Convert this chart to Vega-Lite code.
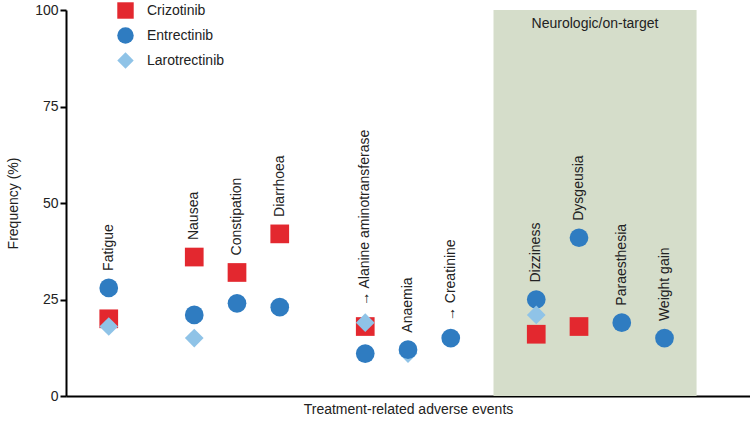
{
  "$schema": "https://vega.github.io/schema/vega-lite/v6.json",
  "width": 684,
  "height": 386,
  "autosize": {"type": "none"},
  "padding": {"left": 66, "top": 10, "right": 0, "bottom": 25},
  "background": "white",
  "config": {
    "view": {"stroke": null},
    "font": "Liberation Sans",
    "text": {"font": "Liberation Sans"}
  },
  "datasets": {
    "points": [
      {"event": "Fatigue", "pos": 1, "drug": "Crizotinib", "freq": 20},
      {"event": "Fatigue", "pos": 1, "drug": "Entrectinib", "freq": 28},
      {"event": "Fatigue", "pos": 1, "drug": "Larotrectinib", "freq": 18},
      {"event": "Nausea", "pos": 3, "drug": "Crizotinib", "freq": 36},
      {"event": "Nausea", "pos": 3, "drug": "Entrectinib", "freq": 21},
      {"event": "Nausea", "pos": 3, "drug": "Larotrectinib", "freq": 15},
      {"event": "Constipation", "pos": 4, "drug": "Crizotinib", "freq": 32},
      {"event": "Constipation", "pos": 4, "drug": "Entrectinib", "freq": 24},
      {"event": "Diarrhoea", "pos": 5, "drug": "Crizotinib", "freq": 42},
      {"event": "Diarrhoea", "pos": 5, "drug": "Entrectinib", "freq": 23},
      {"event": "→ Alanine aminotransferase", "pos": 7, "drug": "Crizotinib", "freq": 18},
      {"event": "→ Alanine aminotransferase", "pos": 7, "drug": "Entrectinib", "freq": 11},
      {"event": "→ Alanine aminotransferase", "pos": 7, "drug": "Larotrectinib", "freq": 19},
      {"event": "Anaemia", "pos": 8, "drug": "Larotrectinib", "freq": 11},
      {"event": "Anaemia", "pos": 8, "drug": "Entrectinib", "freq": 12},
      {"event": "→ Creatinine", "pos": 9, "drug": "Entrectinib", "freq": 15},
      {"event": "Dizziness", "pos": 11, "drug": "Crizotinib", "freq": 16},
      {"event": "Dizziness", "pos": 11, "drug": "Entrectinib", "freq": 25},
      {"event": "Dizziness", "pos": 11, "drug": "Larotrectinib", "freq": 21},
      {"event": "Dysgeusia", "pos": 12, "drug": "Crizotinib", "freq": 18},
      {"event": "Dysgeusia", "pos": 12, "drug": "Entrectinib", "freq": 41},
      {"event": "Paraesthesia", "pos": 13, "drug": "Entrectinib", "freq": 19},
      {"event": "Weight gain", "pos": 14, "drug": "Entrectinib", "freq": 15}
    ],
    "band": [
      {"label": "Neurologic/on-target", "start": 10, "end": 14.75, "low": 0, "high": 100, "mid": 12.375}
    ]
  },
  "layer": [
    {
      "data": {"name": "band"},
      "mark": {"type": "rect", "color": "#d5ddca"},
      "encoding": {
        "x": {"field": "start", "type": "quantitative", "scale": {"domain": [0, 16], "nice": false}},
        "x2": {"field": "end"},
        "y": {"field": "low", "type": "quantitative", "scale": {"domain": [0, 100], "nice": false}},
        "y2": {"field": "high"}
      }
    },
    {
      "data": {"name": "band"},
      "mark": {"type": "text", "fontSize": 14, "color": "#222222", "baseline": "middle", "align": "center", "dy": 14},
      "encoding": {
        "x": {"field": "mid", "type": "quantitative"},
        "y": {"field": "high", "type": "quantitative"},
        "text": {"field": "label"}
      }
    },
    {
      "data": {"name": "points"},
      "mark": {"type": "point", "filled": true, "opacity": 1, "size": 350, "strokeWidth": 0},
      "encoding": {
        "x": {
          "field": "pos", "type": "quantitative",
          "scale": {"domain": [0, 16], "nice": false},
          "axis": {"title": "Treatment-related adverse events", "labels": false, "ticks": false, "grid": false,
                   "domainColor": "#000000", "domainWidth": 2, "titleFontSize": 14, "titleFontWeight": "normal",
                   "titleColor": "#222222", "titlePadding": 6, "titleFont": "Liberation Sans"}
        },
        "y": {
          "field": "freq", "type": "quantitative",
          "scale": {"domain": [0, 100], "nice": false},
          "axis": {"title": "Frequency (%)", "values": [0, 25, 50, 75, 100], "grid": false,
                   "domainColor": "#000000", "domainWidth": 2, "tickColor": "#000000", "tickWidth": 2, "tickSize": 6,
                   "labelFontSize": 14, "labelColor": "#222222", "labelPadding": 2, "labelFont": "Liberation Sans",
                   "titleFontSize": 14, "titleFontWeight": "normal", "titleColor": "#222222", "titlePadding": 14, "titleFont": "Liberation Sans"}
        },
        "color": {
          "field": "drug", "type": "nominal",
          "scale": {"domain": ["Crizotinib", "Entrectinib", "Larotrectinib"], "range": ["#e3282f", "#2f7cc1", "#8fc3e7"]},
          "legend": {"title": null, "orient": "none", "legendX": 51, "legendY": -8, "labelFontSize": 14,
                     "labelColor": "#222222", "labelFont": "Liberation Sans", "symbolSize": 270, "symbolStrokeWidth": 0,
                     "labelOffset": 13, "rowPadding": 8, "symbolOpacity": 1}
        },
        "shape": {
          "field": "drug", "type": "nominal",
          "scale": {"domain": ["Crizotinib", "Entrectinib", "Larotrectinib"], "range": ["square", "circle", "diamond"]},
          "legend": {"title": null, "orient": "none", "legendX": 51, "legendY": -8, "labelFontSize": 14,
                     "labelColor": "#222222", "labelFont": "Liberation Sans", "symbolSize": 270, "symbolStrokeWidth": 0,
                     "labelOffset": 13, "rowPadding": 8, "symbolOpacity": 1}
        }
      }
    },
    {
      "data": {"name": "points"},
      "transform": [
        {"aggregate": [{"op": "max", "field": "freq", "as": "top"}], "groupby": ["event", "pos"]}
      ],
      "mark": {"type": "text", "angle": 270, "align": "left", "baseline": "middle", "dx": 17, "fontSize": 14, "color": "#222222"},
      "encoding": {
        "x": {"field": "pos", "type": "quantitative"},
        "y": {"field": "top", "type": "quantitative"},
        "text": {"field": "event"}
      }
    }
  ]
}
